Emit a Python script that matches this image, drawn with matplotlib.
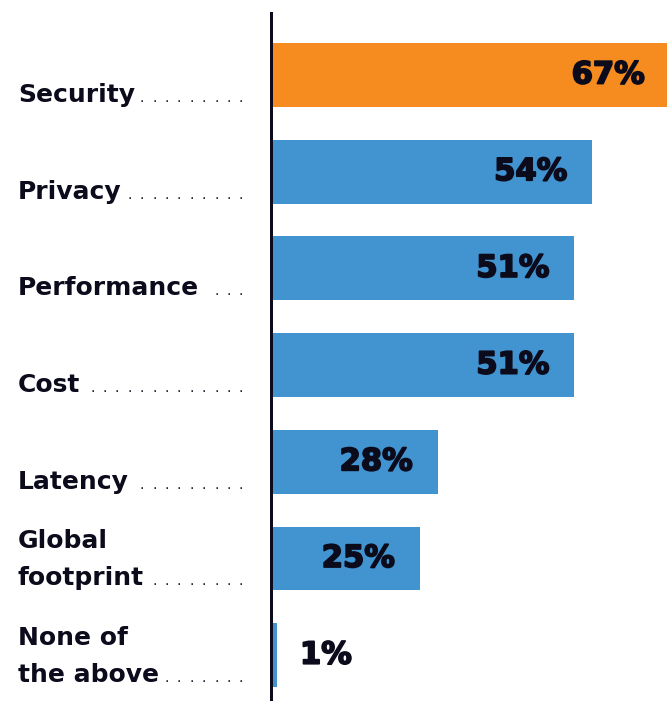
import matplotlib.pyplot as plt
import matplotlib.transforms as mtransforms
import matplotlib.patheffects as pe

categories = ["Security", "Privacy", "Performance", "Cost", "Latency",
              "Global\nfootprint", "None of\nthe above"]
values = [67, 54, 51, 51, 28, 25, 1]
highlight = "Security"

orange = "#f68b1f"
blue = "#4194d0"
ink = "#0b0b1c"

W, H, DPI = 667, 701, 100
fig = plt.figure(figsize=(W / DPI, H / DPI), dpi=DPI)
fig.patch.set_facecolor("white")

# axes starts at the dark rule, runs off the right edge
ax = fig.add_axes([271 / W, 0, 1 - 271 / W, (H - 13) / H])
pitch = 96.7  # px between rows
ax.set_xlim(0, (W - 271) / 5.95)
ax.set_ylim((H - 75) / pitch, -(75 - 13) / pitch)

bar_h = 0.66
colors = [orange if c == highlight else blue for c in categories]
ypos = list(range(len(categories)))
ax.barh(ypos, values, height=bar_h, color=colors, zorder=1)

for s in ["top", "right", "bottom"]:
    ax.spines[s].set_visible(False)
ax.spines["left"].set_linewidth(3 * 72 / DPI)
ax.spines["left"].set_color(ink)
ax.spines["left"].set_zorder(3)
ax.set_xticks([])
ax.set_yticks([])

heavy = [pe.withStroke(linewidth=1.3, foreground=ink)]

# value labels, inside the bar unless it's too short
for y, v in zip(ypos, values):
    inside = v >= 5
    ax.annotate(f"{v}%", (v, y), xytext=(-25 if inside else 23, 0),
                textcoords="offset pixels", ha="right" if inside else "left",
                va="center", fontsize=22, fontweight="bold",
                family="DejaVu Sans", color=ink, annotation_clip=False,
                path_effects=heavy)

# category labels with dot leaders
renderer = fig.canvas.get_renderer()
blend = mtransforms.blended_transform_factory(fig.transFigure, ax.transData)
line_gap = 37
for y, cat in zip(ypos, categories):
    lines = cat.split("\n")
    last = None
    for k, line in enumerate(lines):
        shift = 5 + line_gap * (len(lines) - 1 - k)
        tr = blend + mtransforms.ScaledTranslation(0, shift / DPI, fig.dpi_scale_trans)
        last = fig.text(18 / W, y + bar_h / 2, line, transform=tr, ha="left",
                        va="baseline", fontsize=18, fontweight="bold",
                        family="DejaVu Sans", color=ink)
    right = last.get_window_extent(renderer).x1
    tr = blend + mtransforms.ScaledTranslation(0, 5 / DPI, fig.dpi_scale_trans)
    x = 241.0
    while x >= right + 6:
        fig.text(x / W, y + bar_h / 2, ".", transform=tr, ha="center",
                 va="baseline", fontsize=10, color=ink, family="DejaVu Sans")
        x -= 12.4

fig.savefig("out.png", dpi=DPI)
